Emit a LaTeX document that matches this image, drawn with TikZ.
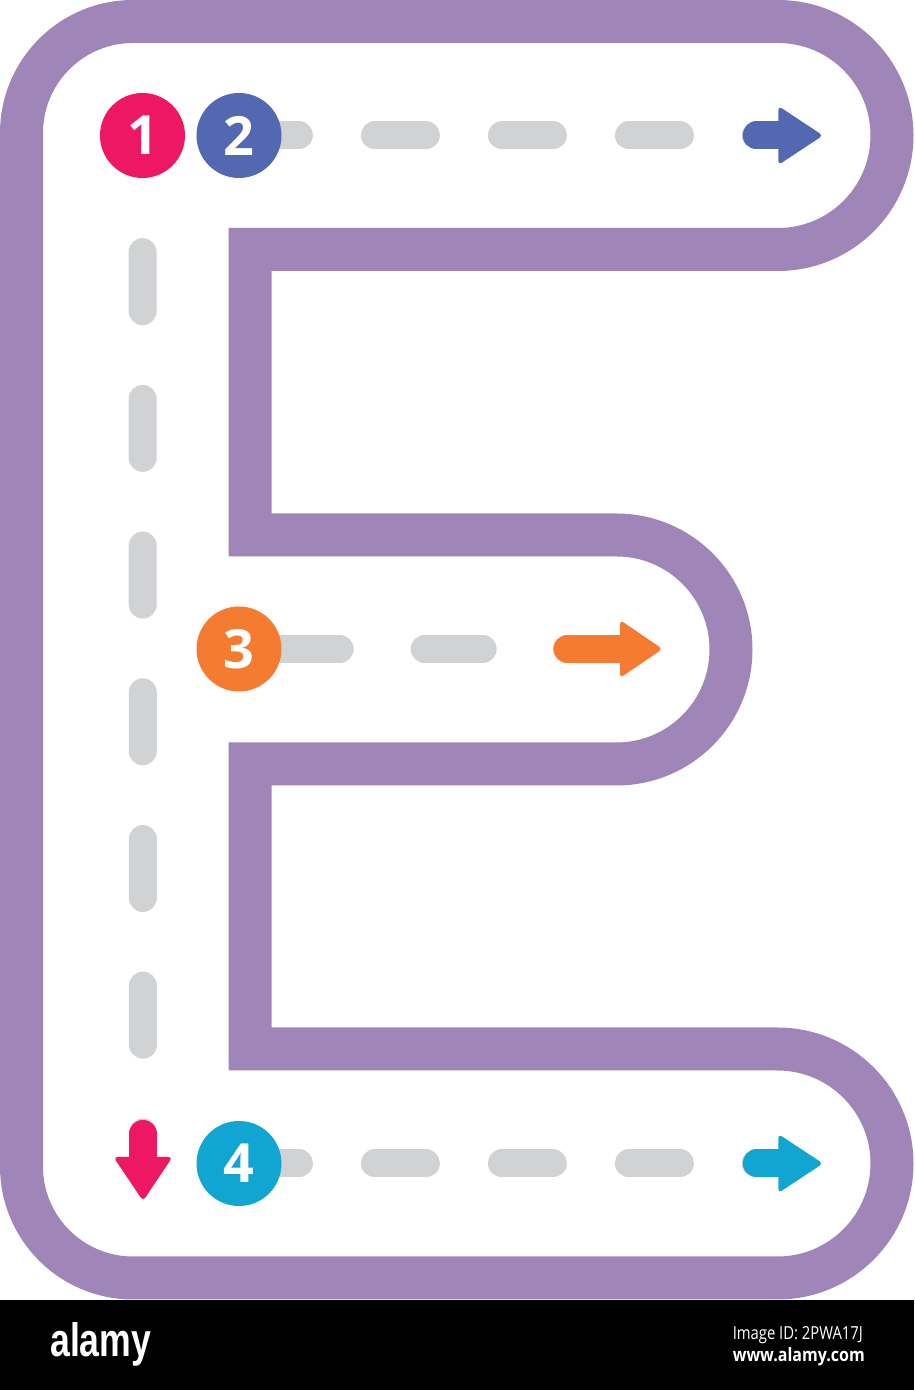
\documentclass[tikz,border=0pt]{standalone}
\usepackage{fontspec}
\setmainfont{Open Sans}
\newfontfamily\logofont{Liberation Sans}
\usepackage{graphicx}
\definecolor{roadc}{RGB}{160,134,184}
\definecolor{lanec}{RGB}{209,210,212}
\definecolor{pinkc}{RGB}{238,23,99}
\definecolor{bluec}{RGB}{82,104,176}
\definecolor{orangec}{RGB}{244,123,48}
\definecolor{cyanc}{RGB}{17,165,209}
\pgfdeclarelayer{background}
\pgfsetlayers{background,main}
\begin{document}
\begin{tikzpicture}[x=1pt,y=1pt,
  road/.style={draw=roadc, line width=43pt},
  lane/.style={draw=lanec, line width=28pt, line cap=round},
  shaft/.style={line width=28pt, line cap=round},
  head/.style={rounded corners=4pt},
  num/.style={circle, minimum size=85pt, inner sep=0pt, text=white,
    font=\fontsize{54}{54}\selectfont\bfseries},
  wm/.style={inner sep=0pt, text=white}]
\useasboundingbox (0,0) rectangle (914,1390);

% numbered stops
\node[num, fill=pinkc]   (c1) at (142.5,1254.5) {1};
\node[num, fill=bluec]   (c2) at (239,1254.5) {2};
\node[num, fill=orangec] (c3) at (239,741) {3};
\node[num, fill=cyanc]   (c4) at (239,226.5) {4};

% arrow tails
\coordinate (t1) at (143,256);
\coordinate (t2) at (756.7,1254.5);
\coordinate (t3) at (567.3,741);
\coordinate (t4) at (756.7,226.5);

\begin{pgfonlayer}{background}
\fill[white] (0,0) rectangle (914,1390);
% road outline (letter E)
\draw[road] (21.5,600) -- (21.5,1257)
  arc[start angle=180,end angle=90,radius=111.5pt] -- (778,1368.5)
  arc[start angle=90,end angle=-90,radius=114pt] -- (250,1140.5)
  -- (250,855) -- (616.5,855)
  arc[start angle=90,end angle=-90,radius=114.5pt] -- (250,626)
  -- (250,341) -- (777.5,341)
  arc[start angle=90,end angle=-90,radius=114.5pt] -- (133,112)
  arc[start angle=270,end angle=180,radius=111.5pt] -- cycle;
% lanes
\draw[lane, dash pattern=on 59pt off 87.7pt, dash phase=72.7pt] (c1) -- (t1);
\draw[lane, dash pattern=on 51pt off 76pt, dash phase=33.8pt] (c2) -- (t2);
\draw[lane, dash pattern=on 58pt off 85pt, dash phase=0pt] (c3) -- (t3);
\draw[lane, dash pattern=on 51pt off 76pt, dash phase=33.8pt] (c4) -- (t4);
\end{pgfonlayer}

% arrows
\draw[shaft, pinkc] (t1) -- (143,231);
\fill[pinkc, head] (113.5,233) -- (143,189) -- (172.5,233) -- cycle;
\draw[shaft, bluec] (t2) -- (780,1254.5);
\fill[bluec, head] (778.3,1284) -- (823,1254.5) -- (778.3,1225) -- cycle;
\draw[shaft, orangec] (t3) -- (622,741);
\fill[orangec, head] (620,770) -- (662.5,741) -- (620,712) -- cycle;
\draw[shaft, cyanc] (t4) -- (780,226.5);
\fill[cyanc, head] (778.3,256) -- (823,226.5) -- (778.3,197) -- cycle;

% footer bar
\fill[black] (0,0) rectangle (914,90);
\node[wm, anchor=base west] (logo) at (50,33)
  {\resizebox{101pt}{34pt}{\logofont\bfseries alamy}};
\node[wm, anchor=base east] (imgid) at (863,50)
  {\resizebox{130pt}{13pt}{Image ID: 2PWA17J}};
\node[wm, anchor=base east] (url) at (865,28)
  {\resizebox{132pt}{14pt}{\bfseries www.alamy.com}};
\end{tikzpicture}
\end{document}
